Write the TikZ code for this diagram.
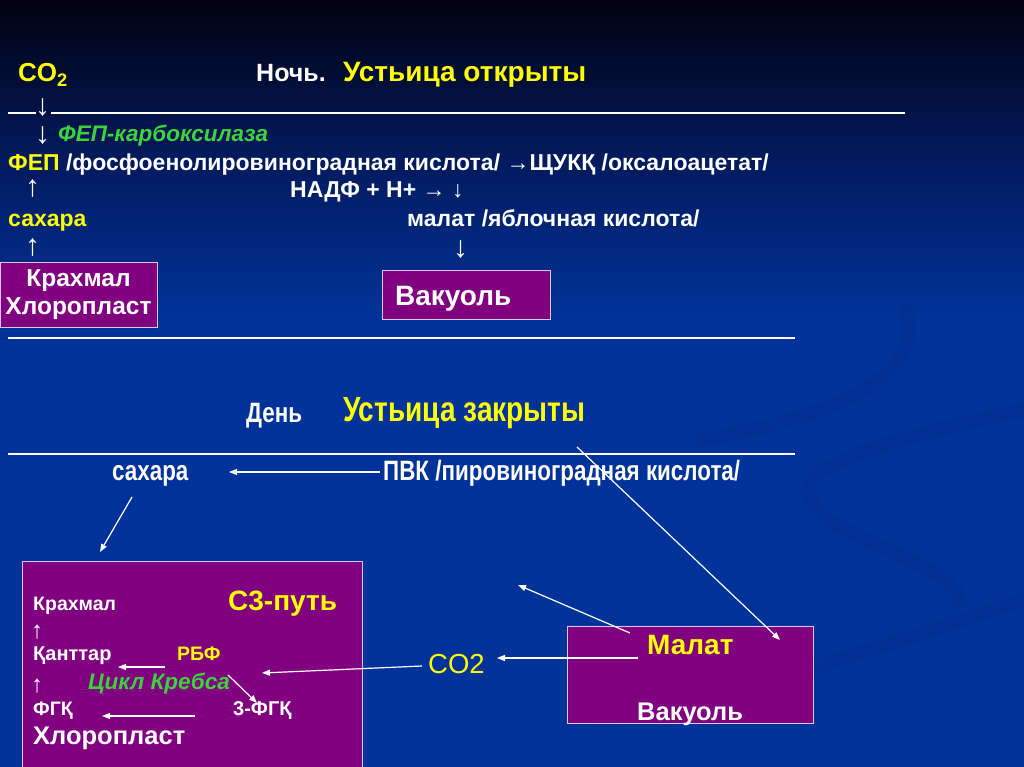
\documentclass[tikz,border=0pt]{standalone}
\usepackage{fontspec}
\setmainfont{Liberation Sans}
\newfontfamily\narrowsf{Liberation Sans}[FakeStretch=0.80]
\usepackage{tikz}
\usetikzlibrary{arrows.meta,positioning,calc}
\definecolor{camBack}{HTML}{003399}
\definecolor{camTop}{HTML}{01020F}
\definecolor{camMid}{HTML}{021A5E}
\definecolor{camSwirl}{HTML}{002C88}
\definecolor{camYellow}{HTML}{FFFF00}
\definecolor{camGreen}{HTML}{3CD23C}
\definecolor{camBox}{HTML}{800080}
\definecolor{camBoxEdge}{HTML}{D8C8F0}
\newcommand{\fsz}[1]{\fontsize{#1}{#1}\selectfont}
\tikzset{
  camtxt/.style={anchor=base west,inner sep=0pt,text=white,font=\bfseries\fsz{23}},
  camylw/.style={camtxt,text=camYellow},
  camgrn/.style={camtxt,text=camGreen,font=\bfseries\itshape\fsz{22.5}},
  camnar/.style={camtxt,font=\narrowsf\bfseries\fsz{28}},
  camarr/.style={camtxt,font=\fsz{30}},
  cambox/.style={draw=camBoxEdge,fill=camBox,line width=1pt,inner sep=0pt,text=white},
  camflow/.style={draw=white,line width=1.2pt,-{Triangle[length=8pt,width=6pt]}},
  camsep/.style={draw=white,line width=1.4pt},
}
\begin{document}
\begin{tikzpicture}[x=1pt,y=-1pt]
  % background and the faint swirls on the right
  \useasboundingbox (0,0) rectangle (1024,767);
  \fill[camBack] (0,0) rectangle (1024,767);
  \shade[top color=camTop,bottom color=camBack,middle color=camMid] (0,0) rectangle (1024,320);
  \begin{scope}[camSwirl,line width=14pt,opacity=0.4,line cap=round]
    \draw (700,440) .. controls (820,420) and (930,380) .. (905,310);
    \draw (1024,410) .. controls (880,440) and (790,470) .. (810,500) .. controls (830,540) and (950,560) .. (960,600);
    \draw (600,720) .. controls (760,690) and (930,630) .. (1024,600);
  \end{scope}

  % night
  \node[camylw,font=\bfseries\fsz{26}] (co2n) at (18,82) {CO\textsubscript{2}};
  \node[camtxt,font=\bfseries\fsz{25}] (night) at (256,82) {Ночь.};
  \node[camylw,font=\bfseries\fsz{28}] (open) at (343,82) {Устьица открыты};
  \draw[camsep] (8,113) -- (36,113) (51,113) -- (905,113);
  \node[camarr] (dn1) at (35,116) {↓};
  \node[camarr] (dn2) at (35,144) {↓};
  \node[camgrn] (pepc) at (58,142) {ФЕП-карбоксилаза};
  \node[camtxt] (pep) at (8,171) {\textcolor{camYellow}{ФЕП} /фосфоенолировиноградная кислота/ →ЩУКҚ /оксалоацетат/};
  \node[camarr] (up1) at (25,197) {↑};
  \node[camtxt] (nadp) at (290,198) {НАДФ + Н+ → ↓};
  \node[camylw] (sug1) at (8,226) {сахара};
  \node[camtxt] (mal1) at (407,226) {малат /яблочная кислота/};
  \node[camarr] (up2) at (25,255) {↑};
  \node[camarr] (dn3) at (453,257) {↓};
  \node[cambox,minimum width=157pt,minimum height=65pt,align=center,font=\bfseries\fsz{24.5}] (chl1) at (78.5,294.5) {Крахмал\\[4pt]Хлоропласт};
  \node[cambox,minimum width=168pt,minimum height=49pt] (vac1) at (466,294.5) {};
  \node[camtxt,font=\bfseries\fsz{28}] (vac1t) at (395,305) {Вакуоль};
  \draw[camsep] (8,338) -- (795,338);

  % day
  \node[camnar] (day) at (246,422) {День};
  \node[camnar,text=camYellow,font=\narrowsf\bfseries\fsz{35}] (closed) at (343,421) {Устьица закрыты};
  \draw[camsep] (8,454) -- (795,454);
  \node[camnar] (sug2) at (112,480) {сахара};
  \node[camnar] (pyr) at (383,480) {ПВК /пировиноградная кислота/};

  % C3 path box
  \node[cambox,anchor=north west,minimum width=340pt,minimum height=220pt] (c3box) at (22,561) {};
  \node[camtxt,font=\bfseries\fsz{19.5}] (starch) at (33,610) {Крахмал};
  \node[camylw,font=\bfseries\fsz{28}] (c3) at (228,610) {С3-путь};
  \node[camarr,font=\fsz{24}] (up3) at (31,638) {↑};
  \node[camtxt,font=\bfseries\fsz{20}] (sug3) at (33,660) {Қанттар};
  \node[camylw,font=\bfseries\fsz{19.5}] (rubp) at (177,660) {РБФ};
  \node[camarr,font=\fsz{24}] (up4) at (31,692) {↑};
  \node[camgrn] (krebs) at (88,689) {Цикл Кребса};
  \node[camtxt,font=\bfseries\fsz{19.5}] (pga) at (33,715) {ФГҚ};
  \node[camtxt,font=\bfseries\fsz{20}] (pga3) at (233,715) {3-ФГҚ};
  \node[camtxt,font=\bfseries\fsz{25.5}] (chl2) at (33,744) {Хлоропласт};

  % vacuole with malate
  \node[cambox,anchor=north west,minimum width=246pt,minimum height=97pt] (vac2) at (567,626) {};
  \node[camylw,font=\bfseries\fsz{28}] (mal2) at (647,654) {Малат};
  \node[camtxt,font=\bfseries\fsz{25.5}] (vac2t) at (637,720) {Вакуоль};
  \node[camylw,font=\fsz{27.5}] (co2d) at (428,673) {CO2};

  % connector ends
  \coordinate (pyrout) at (380,472);   \coordinate (sugin) at (229,472);
  \coordinate (sugout) at (132,497);   \coordinate (c3in) at (100,552);
  \coordinate (dayout) at (577,447);   \coordinate (malin) at (780,640);
  \coordinate (malout) at (630,633);   \coordinate (malup) at (518,585);
  \coordinate (malco) at (638,658);    \coordinate (coin) at (497,658);
  \coordinate (coout) at (422,666);    \coordinate (rubpin) at (262,673);
  \coordinate (rubpout) at (165,667);  \coordinate (sugtip) at (118,667);
  \coordinate (pgaout) at (195,716);   \coordinate (pgatip) at (102,716);
  \coordinate (krebsout) at (228,675); \coordinate (pgain) at (257,703);
  \foreach \a/\b in {pyrout/sugin,sugout/c3in,dayout/malin,malout/malup,malco/coin,
                     coout/rubpin,rubpout/sugtip,pgaout/pgatip,krebsout/pgain}
    {\draw[camflow] (\a) -- (\b);}
\end{tikzpicture}
\end{document}
